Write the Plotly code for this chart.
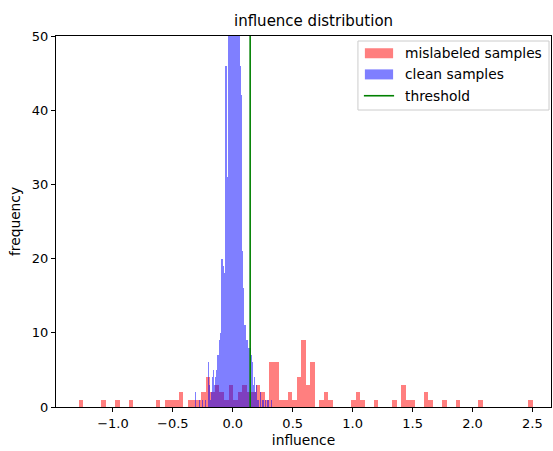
import plotly.graph_objects as go

# ---------------- data ----------------
red_start = -1.286
red_width = 0.0379
red_counts = [1, 0, 0, 0, 0, 1, 0, 0, 1, 0,
              0, 1, 0, 0, 0, 0, 0, 1, 0, 1,
              1, 1, 2, 0, 1, 1, 1, 2, 4, 2,
              3, 2, 1, 3, 1, 2, 3, 2, 2, 3,
              2, 1, 6, 6, 1, 1, 2, 1, 4, 9,
              3, 6, 0, 1, 2, 1, 0, 0, 0, 0,
              1, 2, 1, 0, 0, 1, 0, 0, 0, 1,
              0, 3, 1, 1, 0, 0, 2, 1, 0, 0,
              1, 0, 0, 1, 0, 0, 0, 0, 1, 0,
              0, 0, 0, 0, 0, 0, 0, 0, 0, 1]

blue_start = -0.323
blue_width = 0.00835
blue_counts = [0, 2, 0, 0, 0, 1, 0, 0, 1, 0,
               0, 1, 0, 0, 6, 3, 1, 2, 4, 5,
               3, 4, 5, 7, 7, 9, 10, 20, 20, 19,
               18, 46, 46, 31, 58, 63, 70, 74, 80, 78,
               85, 79, 72, 68, 60, 55, 46, 42, 21, 16,
               11, 11, 9, 9, 8, 8, 8, 7, 6, 3,
               4, 2, 3, 1, 1, 0, 2, 0, 1, 1,
               0, 1, 0, 1, 1, 0, 0, 1]

threshold = 0.145
x_ticks = [-1.0, -0.5, 0.0, 0.5, 1.0, 1.5, 2.0, 2.5]
y_ticks = [0, 10, 20, 30, 40, 50]
legend_labels = ["mislabeled samples", "clean samples", "threshold"]

red_x = [red_start + (i + 0.5) * red_width for i in range(len(red_counts))]
blue_x = [blue_start + (i + 0.5) * blue_width for i in range(len(blue_counts))]

FONT = "DejaVu Sans"
RED = "rgba(255,0,0,0.5)"
BLUE = "rgba(0,0,255,0.5)"
GREEN = "green"
TICK_SIZE = 13
LABEL_SIZE = 13.8

fig = go.Figure()
fig.add_trace(go.Bar(x=red_x, y=red_counts, width=red_width,
                     marker=dict(color=RED, line=dict(width=0)),
                     name=legend_labels[0], showlegend=False))
fig.add_trace(go.Bar(x=blue_x, y=blue_counts, width=blue_width,
                     marker=dict(color=BLUE, line=dict(width=0)),
                     name=legend_labels[1], showlegend=False))
fig.add_trace(go.Scatter(x=[threshold, threshold], y=[0, 50], mode="lines",
                         line=dict(color=GREEN, width=1.6), name=legend_labels[2],
                         showlegend=False))

axis_common = dict(showline=True, linecolor="black", linewidth=1, mirror=True,
                   ticks="outside", ticklen=4, tickcolor="black", showgrid=False,
                   zeroline=False, tickfont=dict(family=FONT, size=TICK_SIZE, color="black"))

# ---- manual legend (matplotlib style) ----
shapes = [
    dict(type="rect", xref="paper", yref="paper", x0=0.610, x1=0.996, y0=0.8005, y1=0.9865,
         fillcolor="rgba(255,255,255,0.8)", line=dict(color="#cccccc", width=1), layer="above"),
    dict(type="rect", xref="paper", yref="paper", x0=0.624, x1=0.681, y0=0.940, y1=0.967,
         fillcolor=RED, line=dict(width=0), layer="above"),
    dict(type="rect", xref="paper", yref="paper", x0=0.624, x1=0.681, y0=0.883, y1=0.910,
         fillcolor=BLUE, line=dict(width=0), layer="above"),
    dict(type="line", xref="paper", yref="paper", x0=0.622, x1=0.683, y0=0.839, y1=0.839,
         line=dict(color=GREEN, width=1.6), layer="above"),
]
annotations = []
for lbl, yy in zip(legend_labels, [0.953, 0.897, 0.839]):
    annotations.append(dict(text=lbl, xref="paper", yref="paper", x=0.702, y=yy,
                            xanchor="left", yanchor="middle", showarrow=False,
                            font=dict(family=FONT, size=LABEL_SIZE, color="black")))

fig.update_layout(
    width=553, height=451,
    margin=dict(l=56, r=2, t=36, b=44),
    paper_bgcolor="white", plot_bgcolor="white",
    barmode="overlay", bargap=0,
    showlegend=False,
    title=dict(text="influence distribution", x=0.567, xanchor="center", y=0.955,
               yanchor="middle", font=dict(family=FONT, size=15, color="black")),
    xaxis=dict(range=[-1.475, 2.655], tickvals=x_ticks, tickformat=".1f",
               title=dict(text="influence", standoff=5,
                          font=dict(family=FONT, size=LABEL_SIZE, color="black")),
               **axis_common),
    yaxis=dict(range=[0, 50], tickvals=y_ticks,
               title=dict(text="frequency", standoff=8,
                          font=dict(family=FONT, size=LABEL_SIZE, color="black")),
               **axis_common),
    shapes=shapes,
    annotations=annotations,
)

fig.write_html("out.html", config={"displayModeBar": False},
               post_script="document.body.style.margin='0px';document.body.style.overflow='hidden';")
